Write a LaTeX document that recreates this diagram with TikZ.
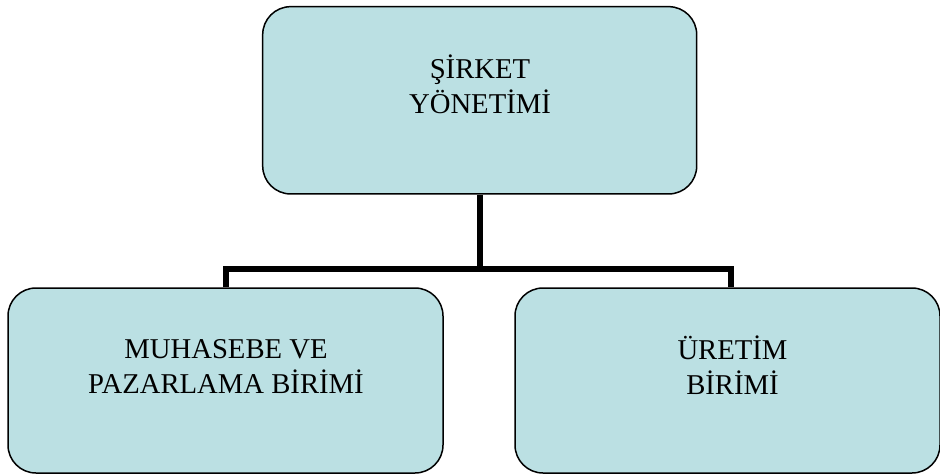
\documentclass[tikz,border=0pt]{standalone}
\usepackage{fontspec}
\setmainfont{Liberation Serif}
\definecolor{boxfill}{RGB}{187,224,227}
\begin{document}
\begin{tikzpicture}[x=1pt,y=-1pt,
  box/.style={draw=black,line width=1.5pt,fill=boxfill,rounded corners=28pt,rectangle,inner sep=0pt},
  lbl/.style={anchor=base,align=center,inner sep=0pt,font=\fontsize{28.7}{34.5}\selectfont},
  conn/.style={draw=black,line width=6pt,line join=miter,line cap=butt}]
\useasboundingbox (0,0) rectangle (940,475);
\node[box,minimum width=434pt,minimum height=187.3pt] (top) at (479.7,100.3) {};
\node[box,minimum width=435pt,minimum height=185pt] (left) at (225.5,380.5) {};
\node[box,minimum width=425pt,minimum height=185pt] (right) at (727.5,380.5) {};
\node[lbl] (toptext) at (480,113) {ŞİRKET\\YÖNETİMİ};
\node[lbl] (lefttext) at (226,393) {MUHASEBE VE\\PAZARLAMA BİRİMİ};
\node[lbl] (righttext) at (732.5,394) {ÜRETİM\\BİRİMİ};
\coordinate (jl) at (226,268.5);
\coordinate (jr) at (731,268.5);
\draw[conn] (top.south) -- (top.south |- jl);
\draw[conn] (left.north -| jl) -- (jl) -- (jr) -- (right.north -| jr);
\end{tikzpicture}
\end{document}
